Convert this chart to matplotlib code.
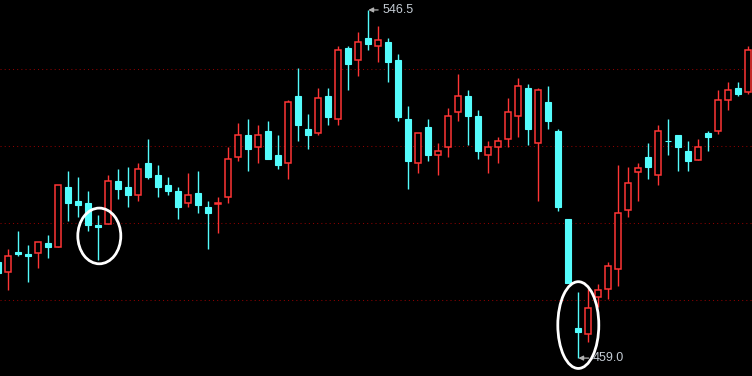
#!/usr/bin/env python3
import matplotlib
matplotlib.use("Agg")
import matplotlib.pyplot as plt
from matplotlib.patches import Ellipse
import numpy as np

# OHLC prices, left to right
opens = [483.2, 480.7, 485.7, 485.1, 485.3, 487.9, 487.0, 502.0, 498.5, 498.0,
         492.4, 492.6, 503.5, 502.0, 500.1, 508.0, 505.0, 502.5, 501.0, 498.0,
         500.5, 497.0, 497.8, 499.5, 509.5, 515.1, 512.1, 516.1, 510.0, 508.0,
         524.9, 516.6, 515.6, 524.9, 519.1, 536.9, 533.9, 539.4, 537.4, 538.4,
         533.9, 519.1, 508.0, 517.1, 510.1, 512.1, 520.9, 524.9, 519.8, 510.1,
         512.1, 514.1, 519.9, 526.9, 513.1, 523.4, 516.1, 493.9, 466.5, 465.1,
         474.3, 476.3, 481.3, 496.1, 505.7, 509.5, 505.1, 513.6, 515.0, 511.0,
         508.7, 515.6, 516.2, 523.9, 526.8, 525.9]
highs = [483.9, 486.4, 490.9, 487.4, 488.3, 489.9, 502.5, 506.0, 504.5, 501.0,
         495.0, 505.0, 506.5, 507.0, 508.0, 514.1, 507.5, 504.5, 502.0, 505.5,
         506.0, 498.5, 499.5, 512.0, 518.1, 519.1, 517.6, 518.6, 515.1, 523.9,
         531.9, 520.3, 526.9, 526.9, 537.4, 537.4, 541.0, 546.5, 542.5, 539.4,
         535.4, 522.4, 515.6, 519.1, 513.1, 521.8, 530.4, 526.4, 521.3, 513.5,
         514.6, 524.4, 529.4, 527.9, 526.9, 527.4, 516.6, 493.9, 475.6, 476.4,
         477.6, 483.1, 507.5, 507.0, 508.0, 513.1, 517.6, 519.1, 515.0, 513.5,
         514.1, 516.1, 526.4, 528.4, 528.4, 537.4]
lows = [479.6, 476.1, 484.7, 478.2, 481.7, 484.2, 487.0, 493.5, 494.5, 491.0,
        483.6, 492.6, 499.0, 497.0, 498.5, 504.0, 499.5, 500.0, 493.9, 497.0,
        495.5, 486.4, 490.4, 498.0, 508.5, 506.0, 508.0, 509.0, 506.5, 504.0,
        513.5, 511.5, 515.1, 517.6, 517.6, 526.4, 529.9, 536.4, 533.4, 528.4,
        518.6, 501.5, 505.5, 508.5, 505.0, 509.5, 518.6, 512.5, 509.0, 505.5,
        508.0, 512.0, 514.6, 512.5, 498.5, 516.6, 496.0, 477.8, 459.0, 463.1,
        471.9, 473.8, 477.2, 494.5, 498.5, 504.1, 502.6, 510.1, 506.1, 506.1,
        508.7, 511.1, 515.2, 521.4, 524.9, 525.5]
closes = [480.3, 484.6, 485.1, 484.6, 488.3, 487.0, 502.5, 498.0, 497.5, 492.5,
          492.0, 503.5, 501.5, 500.0, 506.5, 504.5, 502.0, 501.0, 497.0, 500.0,
          497.5, 495.5, 497.9, 509.0, 515.1, 511.5, 515.1, 509.0, 507.5, 523.4,
          517.6, 515.1, 524.4, 519.6, 536.4, 532.9, 538.4, 537.9, 538.9, 533.4,
          519.6, 508.5, 515.6, 510.0, 511.0, 519.8, 524.9, 519.8, 511.0, 512.0,
          513.5, 520.8, 527.4, 516.6, 526.4, 518.6, 497.0, 477.8, 465.6, 471.6,
          476.0, 482.1, 495.5, 502.9, 506.9, 507.1, 516.0, 513.5, 512.1, 508.6,
          512.0, 514.6, 523.8, 526.3, 525.5, 536.4]

# price levels of the dotted guide lines
grid_levels = [531.6, 512.2, 492.9, 473.5]

up_color = '#FF3535'
down_color = '#54FCFC'
text_color = '#C4CCD4'

o = np.array(opens)
h = np.array(highs)
l = np.array(lows)
c = np.array(closes)
x = np.arange(len(o))
up = c >= o

fig = plt.figure(figsize=(7.52, 3.76), dpi=100, facecolor='black')
ax = fig.add_axes([0, 0, 1, 1], facecolor='black')

# guide lines
for lvl in grid_levels:
    ax.axhline(lvl, color='#8C0000', linewidth=0.75, linestyle=(0, (1, 3)), zorder=0)

# wicks
ax.vlines(x[up], l[up], h[up], color=up_color, linewidth=1, zorder=1)
ax.vlines(x[~up], l[~up], h[~up], color=down_color, linewidth=1, zorder=1)

body_w = 0.62
# rising candles: hollow red
ax.bar(x[up], c[up] - o[up], bottom=o[up], width=body_w, facecolor='black',
       edgecolor=up_color, linewidth=1.1, zorder=2)
# falling candles: solid cyan
ax.bar(x[~up], o[~up] - c[~up], bottom=c[~up], width=body_w, facecolor=down_color,
       edgecolor=down_color, linewidth=0.8, zorder=2)

# high / low markers
i_hi = int(np.argmax(h))
i_lo = int(np.argmin(l))
arrow = dict(arrowstyle='-|>', color='#B0B0B0', linewidth=0.9, mutation_scale=7,
             shrinkA=1, shrinkB=0)
ax.annotate(f'{h[i_hi]:.1f}', xy=(i_hi, h[i_hi]), xytext=(i_hi + 1.4, h[i_hi]),
            color=text_color, fontsize=9, family='Liberation Sans',
            ha='left', va='center', arrowprops=arrow, zorder=5)
ax.annotate(f'{l[i_lo]:.1f}', xy=(i_lo, l[i_lo]), xytext=(i_lo + 1.45, l[i_lo]),
            color=text_color, fontsize=9, family='Liberation Sans',
            ha='left', va='center', arrowprops=arrow, zorder=5)

# hand-drawn highlight circles
ax.add_patch(Ellipse((10.1, 489.7), 4.3, 14.0, fill=False, edgecolor='white',
                     linewidth=2.0, zorder=4))
ax.add_patch(Ellipse((58.0, 467.3), 4.1, 21.8, fill=False, edgecolor='white',
                     linewidth=2.0, zorder=4))

ax.set_xlim(0.17, 75.37)
ax.set_ylim(454.5, 549.0)
ax.axis('off')

plt.savefig('out.png', dpi=100, facecolor='black')
